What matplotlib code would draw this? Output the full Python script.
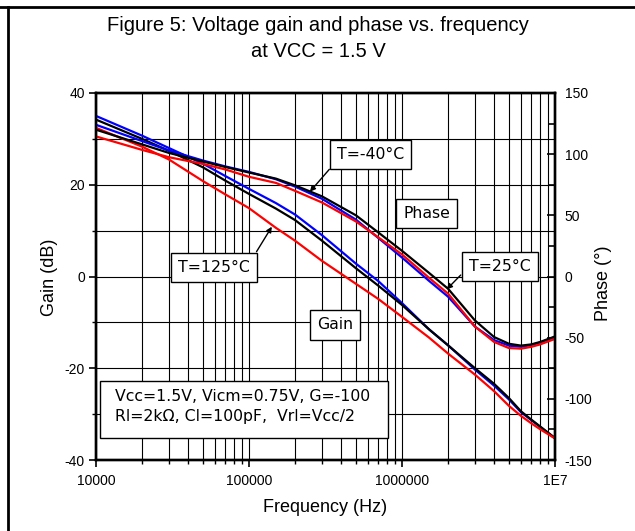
import matplotlib
matplotlib.use('Agg')
import matplotlib.pyplot as plt
from matplotlib.lines import Line2D
from matplotlib.patches import Rectangle
from matplotlib.ticker import FixedLocator, FixedFormatter, NullFormatter

plt.rcParams['font.family'] = ['Liberation Sans', 'DejaVu Sans']
plt.rcParams['axes.unicode_minus'] = False

# frequency points (Hz)
freq = [1e4, 2e4, 3e4, 5e4, 7e4, 1e5, 1.5e5, 2e5, 3e5, 5e5, 7e5, 1e6,
        1.5e6, 2e6, 3e6, 4e6, 5e6, 6e6, 7e6, 8e6, 1e7]

# gain (dB)
gain_m40 = [35.0, 30.7, 28.0, 24.6, 21.9, 19.1, 16.0, 13.5, 9.0, 2.8, -1.0, -5.8,
            -11.5, -15.0, -20.3, -23.8, -26.8, -29.6, -31.3, -32.8, -35.3]
gain_25 = [34.2, 30.0, 27.4, 23.8, 20.9, 18.0, 14.8, 12.3, 7.8, 1.8, -2.0, -6.2,
           -11.5, -15.0, -20.0, -23.4, -26.5, -29.4, -31.2, -32.7, -35.2]
gain_125 = [32.4, 28.3, 25.5, 20.8, 17.9, 14.9, 10.6, 7.8, 3.4, -1.6, -4.9, -8.8,
            -13.3, -16.8, -21.4, -25.0, -28.2, -30.4, -32.0, -33.3, -35.3]

# phase (deg)
phase_m40 = [124, 110.7, 103, 94.8, 90, 85.5, 79.5, 73.5, 63.5, 46.5, 31.5, 15.5,
             -3.5, -16.5, -41, -52, -56.5, -57.5, -56, -54, -49.5]
phase_25 = [120, 108, 101, 94, 89.5, 85, 80, 74.5, 65.5, 50, 36, 21,
            3, -10, -36, -49.5, -55, -56.5, -55.5, -53.5, -49]
phase_125 = [114.5, 103.5, 97.5, 92, 87.5, 81.5, 76.5, 70, 60.5, 45, 32, 18,
             -1, -14, -41, -53.5, -58.5, -59, -57.5, -55.5, -51]

xticks = [1e4, 1e5, 1e6, 1e7]
xticklabels = ['10000', '100000', '1000000', '1E7']

W, H = 635, 531
fig = plt.figure(figsize=(W / 100, H / 100), dpi=100)
ax = fig.add_axes([96 / W, 1 - 460 / H, (555 - 96) / W, (460 - 93) / H])

ax.set_xscale('log')
ax.set_xlim(1e4, 1e7)
ax.set_ylim(-40, 40)
ax.xaxis.set_major_locator(FixedLocator(xticks))
ax.xaxis.set_major_formatter(FixedFormatter(xticklabels))
minors = [m * 10 ** e for e in range(4, 7) for m in range(2, 10)]
ax.xaxis.set_minor_locator(FixedLocator(minors))
ax.xaxis.set_minor_formatter(NullFormatter())
ax.set_yticks([-40, -20, 0, 20, 40])
ax.set_yticks([-30, -10, 10, 30], minor=True)
ax.grid(which='both', color='black', lw=0.8)
ax.set_axisbelow(True)
ax.tick_params(axis='x', which='major', direction='out', length=5, width=1.2,
               labelsize=10, pad=5)
ax.tick_params(axis='x', which='minor', direction='out', length=3, width=1)
ax.tick_params(axis='y', which='major', direction='out', length=5, width=1.2,
               labelsize=10, pad=3)
ax.tick_params(axis='y', which='minor', direction='out', length=3, width=1)

ax.plot(freq, gain_m40, color='#0000ff', lw=1.6, zorder=3)
ax.plot(freq, gain_25, color='black', lw=1.6, zorder=3)
ax.plot(freq, gain_125, color='#ff0000', lw=1.6, zorder=3)

ax2 = ax.twinx()
ax2.set_ylim(-150, 150)
ax2.set_yticks(range(-150, 151, 50))
ax2.set_yticks(range(-125, 150, 50), minor=True)
ax2.tick_params(axis='y', which='major', direction='in', length=6, width=1.2,
                labelsize=10, pad=7)
ax2.tick_params(axis='y', which='minor', direction='in', length=4, width=1.2)

ax2.plot(freq, phase_m40, color='#0000ff', lw=1.6)
ax2.plot(freq, phase_25, color='black', lw=1.6)
ax2.plot(freq, phase_125, color='#ff0000', lw=1.6)

for a in (ax, ax2):
    for s in a.spines.values():
        s.set_linewidth(1.7)

box = dict(boxstyle='square,pad=0.45', fc='white', ec='black', lw=1.0)
tfont = dict(family='DejaVu Sans', size=11.3, ha='center', va='center', zorder=10)
ax2.text(6.22e5, 100, 'T=-40°C', bbox=box, **tfont)
ax2.text(1.45e6, 51.7, 'Phase', bbox=box, **tfont)
ax2.text(4.35e6, 8.0, 'T=25°C', bbox=box, **tfont)
ax2.text(5.89e4, 7.6, 'T=125°C', bbox=box, **tfont)
ax2.text(3.65e5, -39.6, 'Gain', bbox=box, **tfont)

arrow = dict(arrowstyle='-|>', color='black', lw=1.0, mutation_scale=8,
             shrinkA=0, shrinkB=0)
ax2.annotate('', xy=(2.5e5, 69.3), xytext=(3.35e5, 87.6), arrowprops=arrow, zorder=10)
ax2.annotate('', xy=(1.96e6, -10.5), xytext=(2.42e6, 1.2), arrowprops=arrow, zorder=10)
ax2.annotate('', xy=(1.41e5, 40.7), xytext=(1.12e5, 20.3), arrowprops=arrow, zorder=10)

x0 = 4 / 459
y0 = 22 / 367
ax2.add_patch(Rectangle((x0, y0), 288 / 459, 57 / 367, transform=ax2.transAxes,
                        fc='white', ec='black', lw=1.0, zorder=9))
ax2.text(19 / 459, 63.3 / 367, 'Vcc=1.5V, Vicm=0.75V, G=-100', transform=ax2.transAxes,
         family='DejaVu Sans', size=11.3, va='center', ha='left', zorder=10)
ax2.text(19 / 459, 44 / 367, 'Rl=2kΩ, Cl=100pF,  Vrl=Vcc/2', transform=ax2.transAxes,
         family='DejaVu Sans', size=11.3, va='center', ha='left', zorder=10)

fig.text(318 / W, 1 - 31 / H, 'Figure 5: Voltage gain and phase vs. frequency',
         ha='center', va='baseline', size=14.5)
fig.text(318 / W, 1 - 57 / H, 'at VCC = 1.5 V', ha='center', va='baseline', size=14.5)
fig.text(49 / W, 1 - 277 / H, 'Gain (dB)', rotation=90, ha='center', va='center', size=13)
fig.text(604 / W, 1 - 283 / H, 'Phase (°)', rotation=90, ha='center', va='center', size=13)
fig.text(325 / W, 1 - 507 / H, 'Frequency (Hz)', ha='center', va='center', size=13)

# page frame lines (top and left)
fig.add_artist(Line2D([0, 1], [1 - 6.5 / H, 1 - 6.5 / H], transform=fig.transFigure,
                      color='black', lw=2))
fig.add_artist(Line2D([7.5 / W, 7.5 / W], [0, 1 - 6.5 / H], transform=fig.transFigure,
                      color='black', lw=2))

fig.savefig('out.png', dpi=100)
